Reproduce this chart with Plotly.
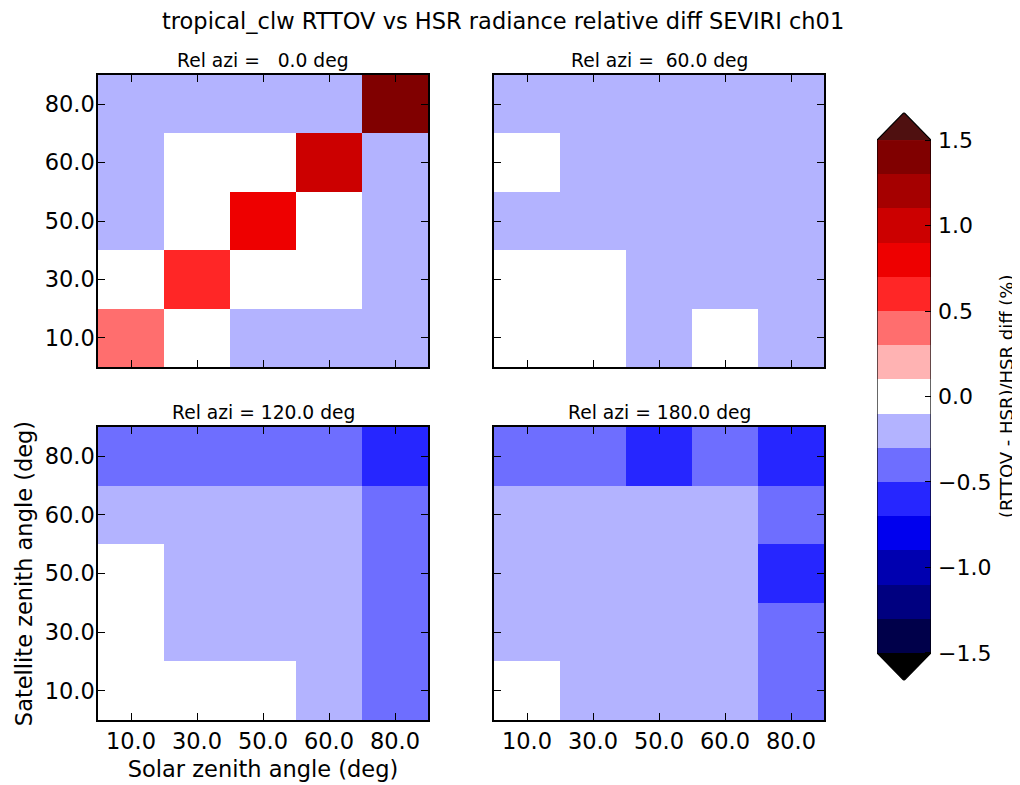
import plotly.graph_objects as go

# ---- data ----
solar_labels = ["10.0", "30.0", "50.0", "60.0", "80.0"]      # x categories
sat_labels = ["10.0", "30.0", "50.0", "60.0", "80.0"]        # y categories (bottom -> top)
panel_titles = ["Rel azi =   0.0 deg", "Rel azi =  60.0 deg",
                "Rel azi = 120.0 deg", "Rel azi = 180.0 deg"]

# relative diff (%) rows: satellite zenith 10, 30, 50, 60, 80
diff_azi000 = [[0.4, 0.0, -0.2, -0.2, -0.2],
               [0.0, 0.6, 0.0, 0.0, -0.2],
               [-0.2, 0.0, 0.8, 0.0, -0.2],
               [-0.2, 0.0, 0.0, 1.0, -0.2],
               [-0.2, -0.2, -0.2, -0.2, 1.4]]
diff_azi060 = [[0.0, 0.0, -0.2, 0.0, -0.2],
               [0.0, 0.0, -0.2, -0.2, -0.2],
               [-0.2, -0.2, -0.2, -0.2, -0.2],
               [0.0, -0.2, -0.2, -0.2, -0.2],
               [-0.2, -0.2, -0.2, -0.2, -0.2]]
diff_azi120 = [[0.0, 0.0, 0.0, -0.2, -0.4],
               [0.0, -0.2, -0.2, -0.2, -0.4],
               [0.0, -0.2, -0.2, -0.2, -0.4],
               [-0.2, -0.2, -0.2, -0.2, -0.4],
               [-0.4, -0.4, -0.4, -0.4, -0.6]]
diff_azi180 = [[0.0, -0.2, -0.2, -0.2, -0.4],
               [-0.2, -0.2, -0.2, -0.2, -0.4],
               [-0.2, -0.2, -0.2, -0.2, -0.6],
               [-0.2, -0.2, -0.2, -0.2, -0.4],
               [-0.4, -0.4, -0.6, -0.4, -0.6]]

levels = [-1.5, -1.3, -1.1, -0.9, -0.7, -0.5, -0.3, -0.1, 0.1, 0.3, 0.5, 0.7, 0.9, 1.1, 1.3, 1.5]
level_colors = ["#00004a", "#000080", "#0000b0", "#0000ee", "#2626ff", "#6e6eff", "#b3b3ff",
                "#ffffff", "#ffb3b3", "#ff6e6e", "#ff2626", "#ee0000", "#cc0000", "#a50000", "#800000"]
over_color = "#4f1010"
under_color = "#000000"
cbar_ticks = [-1.5, -1.0, -0.5, 0.0, 0.5, 1.0, 1.5]
cbar_ticktext = ["\u22121.5", "\u22121.0", "\u22120.5", "0.0", "0.5", "1.0", "1.5"]

# ---- build discrete colorscale ----
zmin, zmax = levels[0], levels[-1]
cs = []
for i, c in enumerate(level_colors):
    a = (levels[i] - zmin) / (zmax - zmin)
    b = (levels[i + 1] - zmin) / (zmax - zmin)
    cs.append([a, c])
    cs.append([b, c])

# page body has an 8px margin: lay out in window pixels, convert to paper
OFF = 8
W, H = 1020 - OFF, 785 - OFF
def px(x):
    return (x - OFF) / W
def py(y):
    return 1 - (y - OFF) / H

FONT = "DejaVu Sans"
fig = go.Figure()

panels = [diff_azi000, diff_azi060, diff_azi120, diff_azi180]
doms = [((98, 428), (75, 367)), ((494, 824), (75, 367)),
        ((98, 428), (427, 720)), ((494, 824), (427, 720))]

for k, z in enumerate(panels):
    n = k + 1
    xa = "x" if n == 1 else f"x{n}"
    ya = "y" if n == 1 else f"y{n}"
    fig.add_trace(go.Heatmap(x=solar_labels, y=sat_labels, z=z, colorscale=cs,
                             zmin=zmin, zmax=zmax, showscale=False,
                             xaxis=xa, yaxis=ya, hoverinfo="x+y+z"))
    (x0, x1), (y0, y1) = doms[k]
    common = dict(showline=True, linecolor="black", linewidth=1.5, mirror="ticks",
                  ticks="inside", ticklen=7, tickwidth=1, tickcolor="black",
                  showgrid=False, zeroline=False, type="category",
                  tickfont=dict(family=FONT, size=22.5, color="black"))
    xkey = "xaxis" if n == 1 else f"xaxis{n}"
    ykey = "yaxis" if n == 1 else f"yaxis{n}"
    fig.layout[xkey] = dict(common, domain=[px(x0), px(x1)], anchor=ya,
                            categoryorder="array", categoryarray=solar_labels,
                            showticklabels=(n in (3, 4)))
    fig.layout[ykey] = dict(common, domain=[py(y1), py(y0)], anchor=xa,
                            categoryorder="array", categoryarray=sat_labels,
                            showticklabels=(n in (1, 3)), ticklabelstandoff=-3)
    fig.add_annotation(x=px((x0 + x1) / 2), y=py(y0 - 2), xref="paper", yref="paper",
                       text=panel_titles[k], showarrow=False, xanchor="center",
                       yanchor="bottom", font=dict(family=FONT, size=18.7, color="black"))

fig.layout.xaxis3.title = dict(text="Solar zenith angle (deg)", standoff=8,
                               font=dict(family=FONT, size=22.5, color="black"))
fig.layout.yaxis3.title = dict(text="Satellite zenith angle (deg)", standoff=6,
                               font=dict(family=FONT, size=22.5, color="black"))

# ---- colorbar drawn as its own axis ----
ext = 0.161
mids = [[(levels[i] + levels[i + 1]) / 2] for i in range(len(level_colors))]
fig.add_trace(go.Heatmap(x=[0, 1], y=levels, z=mids, colorscale=cs, zmin=zmin, zmax=zmax,
                         showscale=False, xaxis="x5", yaxis="y5", hoverinfo="skip"))
fig.add_trace(go.Scatter(x=[0, 0.5, 1, 0], y=[zmax, zmax + ext, zmax, zmax], mode="lines",
                         fill="toself", fillcolor=over_color, line=dict(width=0),
                         xaxis="x5", yaxis="y5", hoverinfo="skip", showlegend=False))
fig.add_trace(go.Scatter(x=[0, 0.5, 1, 0], y=[zmin, zmin - ext, zmin, zmin], mode="lines",
                         fill="toself", fillcolor=under_color, line=dict(width=0),
                         xaxis="x5", yaxis="y5", hoverinfo="skip", showlegend=False))
fig.add_trace(go.Scatter(x=[0, 0, 0.5, 1, 1, 0.5, 0],
                         y=[zmin, zmax, zmax + ext, zmax, zmin, zmin - ext, zmin],
                         mode="lines", line=dict(color="black", width=1.2),
                         xaxis="x5", yaxis="y5", hoverinfo="skip", showlegend=False))
fig.layout.xaxis5 = dict(domain=[px(877), px(931)], anchor="y5", range=[0, 1],
                         showline=False, showgrid=False, zeroline=False,
                         showticklabels=False, ticks="")
fig.layout.yaxis5 = dict(domain=[py(680.5), py(112.5)], anchor="x5", side="right",
                         range=[zmin - ext, zmax + ext], showline=False, showgrid=False,
                         zeroline=False, ticks="inside", ticklen=6, tickcolor="black",
                         tickvals=cbar_ticks, ticktext=cbar_ticktext, ticklabelstandoff=6,
                         tickfont=dict(family=FONT, size=22, color="black"))
fig.add_annotation(x=px(1007), y=py(397), xref="paper", yref="paper",
                   text="(RTTOV - HSR)/HSR diff (%)", textangle=-90, showarrow=False,
                   xanchor="center", yanchor="middle",
                   font=dict(family=FONT, size=18, color="black"))

fig.add_annotation(x=px(503), y=py(21), xref="paper", yref="paper",
                   text="tropical_clw RTTOV vs HSR radiance relative diff SEVIRI ch01",
                   showarrow=False, xanchor="center", yanchor="middle",
                   font=dict(family=FONT, size=22.5, color="black"))

fig.update_layout(width=W, height=H, margin=dict(l=0, r=0, t=0, b=0),
                  paper_bgcolor="white", plot_bgcolor="white", showlegend=False)

fig.write_html("out.html")
